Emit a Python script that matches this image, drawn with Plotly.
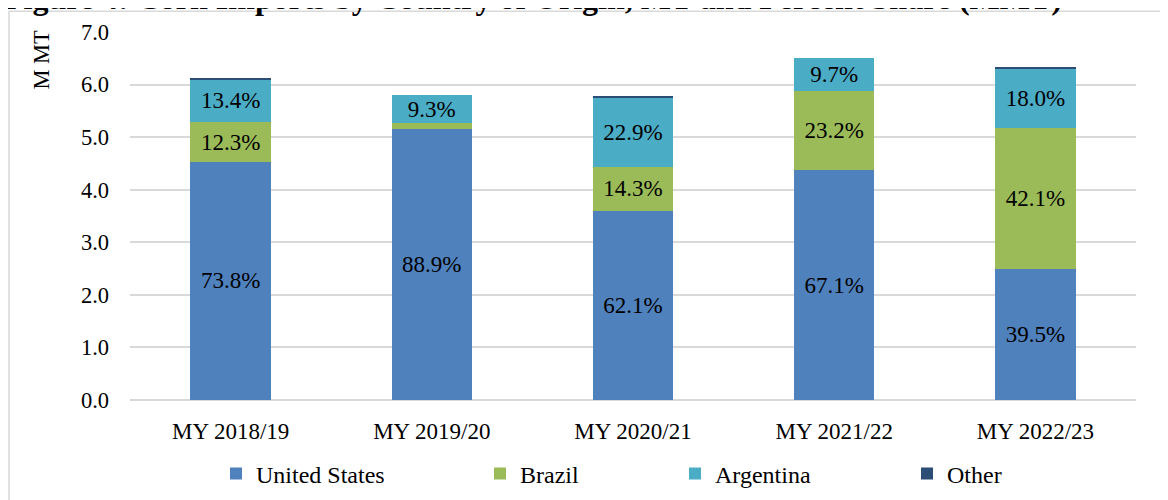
import plotly.graph_objects as go

categories = ["MY 2018/19", "MY 2019/20", "MY 2020/21", "MY 2021/22", "MY 2022/23"]

# Imports by origin, million metric tons
united_states = [4.53, 5.16, 3.60, 4.37, 2.50]
brazil = [0.75, 0.10, 0.83, 1.51, 2.67]
argentina = [0.82, 0.54, 1.33, 0.63, 1.14]
other = [0.03, 0.00, 0.03, 0.00, 0.03]

# Percent share labels shown on the bars (None = no label)
us_share = [73.8, 88.9, 62.1, 67.1, 39.5]
brazil_share = [12.3, None, 14.3, 23.2, 42.1]
argentina_share = [13.4, 9.3, 22.9, 9.7, 18.0]

series_names = ["United States", "Brazil", "Argentina", "Other"]
colors = ["#4F81BD", "#9BBB59", "#4BACC6", "#2C4D75"]

title_text = "Figure 4: Corn Imports by Country of Origin, MT and Percent Share (MMT)"
y_title = "M MT"

FONT = "Liberation Serif, Times New Roman, serif"

# page geometry (the page body adds an 8px offset)
W, H = 1168, 500
OFF = 8
PL, PR, PT, PB = 130, 1136, 30, 403          # plot area in page pixels
PW, PH = PR - PL, PB - PT


def px_x(x):
    return (x - PL) / PW


def px_y(y):
    return (PB - y) / PH


def fmt(shares):
    return ["" if s is None else f"{s:.1f}%" for s in shares]


fig = go.Figure()
values = [united_states, brazil, argentina, other]
labels = [fmt(us_share), fmt(brazil_share), fmt(argentina_share), None]
legend_ids = ["legend", "legend2", "legend3", "legend4"]

for name, vals, col, lab, lg in zip(series_names, values, colors, labels, legend_ids):
    fig.add_trace(go.Bar(
        x=categories, y=vals, name=name,
        marker=dict(color=col, line=dict(width=0)),
        text=lab,
        textposition="inside" if lab else "none",
        insidetextanchor="middle",
        textangle=0,
        constraintext="none",
        textfont=dict(family=FONT, size=23, color="black"),
        legend=lg,
        hoverinfo="skip",
    ))

# legend item starts (page pixels)
legend_x = [216, 480, 675, 907]
legend_layout = {}
for lg, lx in zip(legend_ids, legend_x):
    legend_layout[lg] = dict(
        x=px_x(lx), xanchor="left", y=px_y(478), yanchor="middle",
        orientation="h", bgcolor="rgba(0,0,0,0)", borderwidth=0,
        font=dict(family=FONT, size=24, color="black"),
        itemclick=False, itemdoubleclick=False,
    )

fig.update_layout(
    width=W, height=H,
    margin=dict(l=PL - OFF, r=W - (PR - OFF), t=PT - OFF, b=H - (PB - OFF), pad=0),
    paper_bgcolor="white", plot_bgcolor="white",
    barmode="stack", bargap=0.6,
    font=dict(family=FONT, size=22, color="black"),
    showlegend=True,
    **legend_layout,
)

fig.update_yaxes(
    range=[0, 7], dtick=1, tickformat=".1f",
    showgrid=True, gridcolor="#D9D9D9", gridwidth=1.5,
    zeroline=True, zerolinecolor="#D9D9D9", zerolinewidth=1.5,
    showline=False, ticks="", ticklabelstandoff=20,
    tickfont=dict(family=FONT, size=22.5, color="black"),
)
fig.update_xaxes(
    showline=False, ticks="", showgrid=False,
    tickfont=dict(family=FONT, size=23, color="black"),
    ticklabelstandoff=15,
)

# outer chart border (light grey)
fig.add_shape(type="rect", xref="paper", yref="paper",
              x0=px_x(9), y0=px_y(H + 30), x1=px_x(W + 30), y1=px_y(9),
              line=dict(color="#D9D9D9", width=1.5), fillcolor="rgba(0,0,0,0)",
              layer="below")

# Title (partially cut at top, as in the reference)
fig.add_annotation(text=f"<b>{title_text}</b>", xref="paper", yref="paper",
                   x=px_x(2), y=px_y(-4), xanchor="left", yanchor="middle",
                   showarrow=False, font=dict(family=FONT, size=32, color="black"))

# Y axis title
fig.add_annotation(text=y_title, xref="paper", yref="paper",
                   x=px_x(42), y=px_y(58), xanchor="center", yanchor="middle",
                   textangle=-90, showarrow=False,
                   font=dict(family=FONT, size=22.5, color="black"))

fig.write_html("out.html")
